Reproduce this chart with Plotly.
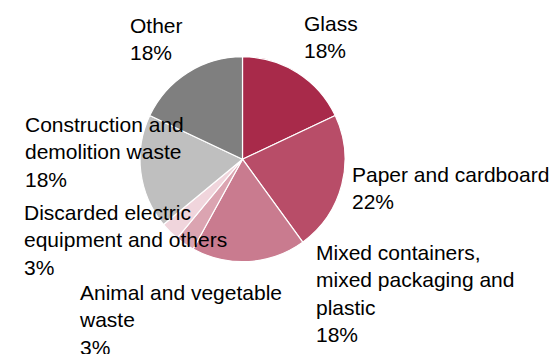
import plotly.graph_objects as go

W, H = 553, 354

categories = [
    "Glass",
    "Paper and cardboard",
    "Mixed containers,<br>mixed packaging and<br>plastic",
    "Animal and vegetable<br>waste",
    "Discarded electric<br>equipment and others",
    "Construction and<br>demolition waste",
    "Other",
]
shares = [18, 22, 18, 3, 3, 18, 18]
colors = ["#A82A4A", "#B84D68", "#C97B8F", "#DBA4B1", "#F0D5DC", "#BFBFBF", "#7F7F7F"]

# label anchor positions in pixels (left x, top of text)
label_px = [
    (303, 16), (351, 167), (315, 245), (78, 285), (23, 205), (24, 117), (129, 18),
]

cx, cy, r = 242.5, 159.2, 102.5

fig = go.Figure(go.Pie(
    labels=[c.replace("<br>", " ") for c in categories],
    values=shares,
    sort=False,
    direction="clockwise",
    rotation=0,
    marker=dict(colors=colors, line=dict(color="white", width=1.2)),
    textinfo="none",
    hoverinfo="label+percent",
    showlegend=False,
    domain=dict(x=[(cx - r) / W, (cx + r) / W], y=[1 - (cy + r) / H, 1 - (cy - r) / H]),
))

off = 6
for cat, val, (lx, ty) in zip(categories, shares, label_px):
    fig.add_annotation(
        x=(lx - 1) / W, y=1 - (ty - off) / H,
        xref="paper", yref="paper",
        xanchor="left", yanchor="top", align="left",
        text=f"{cat}<br>{val}%",
        showarrow=False,
        font=dict(family="Liberation Sans, Arial, sans-serif", size=21, color="#000000"),
    )

fig.update_layout(
    width=W, height=H,
    margin=dict(l=0, r=0, t=0, b=0),
    paper_bgcolor="white", plot_bgcolor="white",
)
fig.write_html(
    "out.html",
    config={"displayModeBar": False},
    post_script="document.body.style.margin='0px';document.body.style.overflow='hidden';",
)
